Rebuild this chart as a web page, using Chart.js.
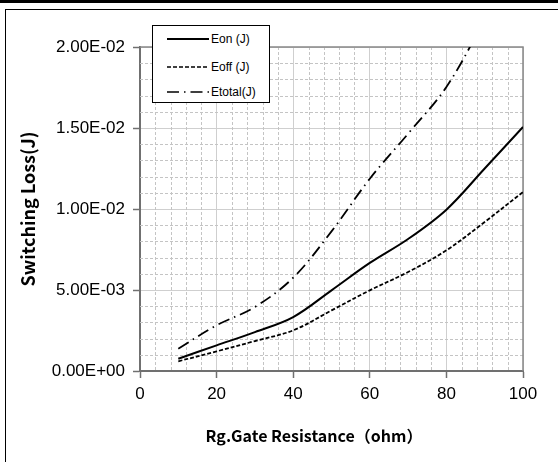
<!DOCTYPE html>
<html>
<head>
<meta charset="utf-8">
<script src="https://cdn.jsdelivr.net/npm/chart.js@4"></script>
<style>
  html, body { margin: 0; padding: 0; background: #fff; }
  #wrap { position: relative; width: 558px; height: 462px; overflow: hidden; }
  #topbar { position: absolute; left: 0; top: 0; width: 558px; height: 3px; background: #000; }
  #frame { position: absolute; left: 5px; top: 9px; width: 600px; height: 500px; border: 1px solid #000; box-sizing: border-box; }
  canvas { position: absolute; left: 0; top: 0; }
  #legend { position: absolute; left: 152px; top: 25px; width: 118px; height: 78px; box-sizing: border-box;
            border: 1px solid #000; background: #fff; font-family: "Liberation Sans", Arial, sans-serif; font-size: 12px; }
  .item { position: absolute; left: 14px; height: 14px; display: flex; align-items: center; }
  .item span { margin-left: 2px; }
  #xtitle { position: absolute; left: 0; width: 628px; top: 424px; text-align: center;
            font-family: "Noto Sans CJK SC", "Noto Sans", sans-serif; font-weight: bold; font-size: 16px; line-height: 22px; }
</style>
</head>
<body>
<div id="wrap">
  <div id="topbar"></div>
  <div id="frame"></div>
  <canvas id="c" width="558" height="462"></canvas>
  <div id="legend"></div>
  <div id="xtitle"></div>
</div>
<script>
// ---- data ----
const rgOhm = [10, 20, 30, 40, 50, 60, 70, 80, 90, 100];
const eonJ = [0.00076, 0.00158, 0.00240, 0.00333, 0.00498, 0.00667, 0.00815, 0.00996, 0.01250, 0.01506];
const eoffJ = [0.00060, 0.00121, 0.00185, 0.00251, 0.00374, 0.00498, 0.00611, 0.00745, 0.00920, 0.01105];
const etotalJ = [0.00138, 0.00282, 0.00395, 0.00576, 0.00862, 0.01187, 0.01465, 0.01753, 0.02170, 0.02610];
const seriesNames = ["Eon (J)", "Eoff (J)", "Etotal(J)"];
const xTitle = "Rg.Gate Resistance\uff08ohm\uff09";
const yTitle = "Switching Loss(J)";

const dashes = [[], [4, 2], [12, 5, 1.5, 5]];
const widths = [2, 1.8, 1.8];

function fmtExp(v) {
  if (Math.abs(v) < 1e-12) return "0.00E+00";
  let s = v.toExponential(2).toUpperCase();
  const m = s.match(/^(.*)E([+-])(\d+)$/);
  return m[1] + "E" + m[2] + (m[3].length < 2 ? "0" + m[3] : m[3]);
}

function mk(xs, ys) { return xs.map((x, i) => ({ x: x, y: ys[i] })); }

const minorGrid = {
  id: 'minorGrid',
  beforeDatasetsDraw(chart) {
    const { ctx, chartArea: a, scales: { x, y } } = chart;
    ctx.save();
    ctx.strokeStyle = '#c4c4c4';
    ctx.lineWidth = 1;
    ctx.setLineDash([3, 2]);
    for (let v = 4; v < 100; v += 4) {
      if (v % 20 === 0) continue;
      const px = Math.round(x.getPixelForValue(v)) + 0.5;
      ctx.beginPath(); ctx.moveTo(px, a.top); ctx.lineTo(px, a.bottom); ctx.stroke();
    }
    for (let k = 1; k < 20; k++) {
      if (k % 5 === 0) continue;
      const py = Math.round(y.getPixelForValue(k * 0.001)) + 0.5;
      ctx.beginPath(); ctx.moveTo(a.left, py); ctx.lineTo(a.right, py); ctx.stroke();
    }
    ctx.setLineDash([]);
    ctx.strokeStyle = '#888';
    ctx.lineWidth = 1.5;
    ctx.beginPath();
    ctx.moveTo(a.left, a.top); ctx.lineTo(a.right, a.top); ctx.lineTo(a.right, a.bottom);
    ctx.stroke();
    ctx.restore();
  }
};

const tickFont = { family: '"Liberation Sans", Arial, sans-serif', size: 17 };

new Chart(document.getElementById('c'), {
  type: 'line',
  data: {
    datasets: [
      { label: seriesNames[0], data: mk(rgOhm, eonJ) },
      { label: seriesNames[1], data: mk(rgOhm, eoffJ) },
      { label: seriesNames[2], data: mk(rgOhm, etotalJ) }
    ].map((d, i) => Object.assign(d, {
      borderColor: '#000', borderWidth: widths[i], borderDash: dashes[i],
      pointRadius: 0, fill: false, tension: 0.35
    }))
  },
  options: {
    responsive: false, animation: false,
    layout: { padding: { top: 47, right: 35, left: 0, bottom: 0 } },
    plugins: { legend: { display: false }, tooltip: { enabled: false } },
    scales: {
      x: {
        type: 'linear', min: 0, max: 100,
        ticks: { stepSize: 20, font: tickFont, color: '#000', padding: 6, maxRotation: 0 },
        grid: { color: '#cfcfcf', tickLength: 7, tickColor: '#707070', tickWidth: 1.5 },
        border: { color: '#707070', width: 2 },
        afterFit(s) { s.height = 91; }
      },
      y: {
        type: 'linear', min: 0, max: 0.02,
        ticks: { stepSize: 0.005, font: tickFont, color: '#000', padding: 8, callback: v => fmtExp(v) },
        grid: { color: '#cfcfcf', tickLength: 7, tickColor: '#707070', tickWidth: 1.5 },
        border: { color: '#707070', width: 2 },
        title: { display: true, text: yTitle, color: '#000',
                 font: { family: '"Noto Sans CJK SC", "Noto Sans", sans-serif', size: 18, weight: 'bold' },
                 padding: { top: 17, bottom: 0 } },
        afterFit(s) { s.width = 140; }
      }
    }
  },
  plugins: [minorGrid]
});

// legend (HTML overlay)
const lg = document.getElementById('legend');
const rows = [13, 41, 66];
seriesNames.forEach((n, i) => {
  const d = document.createElement('div');
  d.className = 'item';
  d.style.top = (rows[i] - 7) + 'px';
  d.innerHTML = '<svg width="42" height="14"><line x1="0" y1="7" x2="42" y2="7" stroke="#000" stroke-width="' +
    (i === 0 ? 1.8 : 1.6) + '" stroke-dasharray="' + (dashes[i].length ? dashes[i].join(',') : 'none') + '"/></svg><span></span>';
  d.querySelector('span').textContent = n;
  lg.appendChild(d);
});
document.getElementById('xtitle').textContent = xTitle;
</script>
</body>
</html>
